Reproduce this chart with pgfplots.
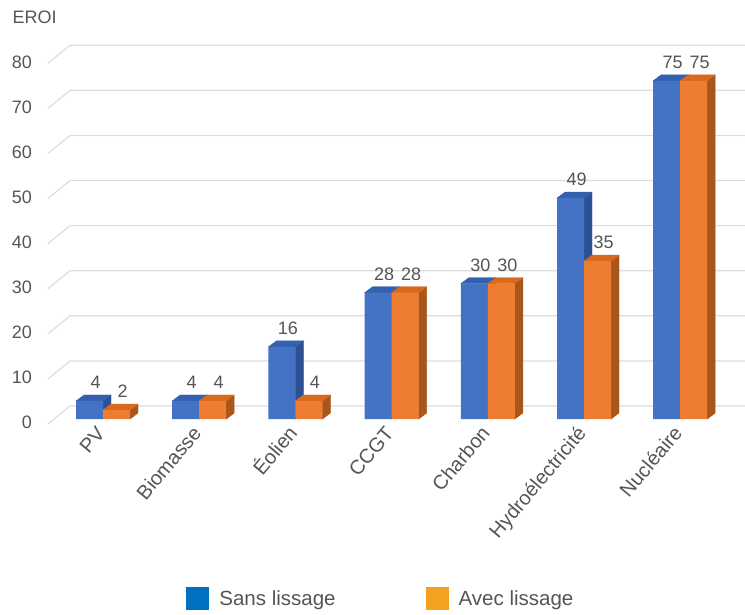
\documentclass[border=0pt]{standalone}
\usepackage{pgfplots}
\pgfplotsset{compat=1.18}
\usepackage{pgfplotstable}
\usepackage{fontspec}
\setmainfont{Liberation Sans}

\definecolor{bluefront}{HTML}{4472C4}
\definecolor{bluetop}{HTML}{3460B0}
\definecolor{blueside}{HTML}{2C5093}
\definecolor{orangefront}{HTML}{ED7D31}
\definecolor{orangetop}{HTML}{D8691F}
\definecolor{orangeside}{HTML}{A9561A}
\definecolor{legblue}{HTML}{0070C0}
\definecolor{legorange}{HTML}{F4A020}
\definecolor{gridgray}{HTML}{DDDDDD}
\definecolor{labelgray}{HTML}{555555}

% EROI with and without smoothing, per source
\pgfplotstableread{
idx sans avec
0 4 2
1 4 4
2 16 4
3 28 28
4 30 30
5 49 35
6 75 75
}\eroi

% depth of the extruded bars (pt) and vertical unit (pt per EROI point)
\def\dx{8}
\def\dy{6}
\def\yu{4.51}

\pgfplotsset{
  extrude/.style n args={4}{% side colour, top colour, left and right edge of the front face (pt)
    scatter, only marks, mark=text, text mark={}, forget plot,
    visualization depends on={rawy \as \vy},
    scatter/@pre marker code/.code={%
      \pgfmathsetmacro\hh{\vy*\yu}%
      \fill[#1] (#4pt,-\hh pt) -- (#4pt,0pt) -- (#4pt+\dx pt,\dy pt) -- (#4pt+\dx pt,\dy pt-\hh pt) -- cycle;
      \fill[#2] (#3pt,0pt) -- (#3pt+\dx pt,\dy pt) -- (#4pt+\dx pt,\dy pt) -- (#4pt,0pt) -- cycle;
    },
    scatter/@post marker code/.code={},
  },
  front/.style={ybar, bar width=27pt, draw=none, bar shift=#1,
    nodes near coords,
    every node near coord/.append style={anchor=base, inner sep=0pt, xshift=#1+6pt, yshift=12.5pt,
      font=\fontsize{18}{21}\selectfont, text=labelgray},
  },
}

\begin{document}
\begin{tikzpicture}
\begin{axis}[
  at={(48pt,191pt)}, anchor=south west,
  x=96.2pt, y=\yu pt,
  xmin=-0.572, xmax=6.67, ymin=-1.1, ymax=83,
  enlargelimits=false, clip=false, clip marker paths=true, set layers,
  axis line style={draw=none}, major tick length=0pt,
  xtick={0,...,6},
  xticklabels={PV,Biomasse,Éolien,CCGT,Charbon,Hydroélectricité,Nucléaire},
  ytick={0,10,...,80},
  /pgf/number format/assume math mode=true,
  tick label style={font=\fontsize{18}{21}\selectfont, text=labelgray},
  yticklabel style={anchor=east, inner sep=0pt, xshift=-16pt, yshift=-3.6pt},
  xticklabel style={xshift=1pt, yshift=-8pt, rotate=50, anchor=east, inner sep=0pt,
    text height=0.75em, text depth=0.2em, font=\fontsize{20}{23}\selectfont},
  ylabel={EROI},
  every axis y label/.style={at={(axis description cs:-0.056,1.0546)}, anchor=base west,
    font=\fontsize{18}{21}\selectfont, text=labelgray},
  legend style={draw=none, fill=none, at={(axis description cs:0.4778,-0.4614)}, anchor=center,
    legend columns=2, font=\fontsize{20.5}{24}\selectfont, text=labelgray,
    /tikz/every even column/.append style={column sep=88pt}},
]
\begin{pgfonlayer}{axis background}
  \pgfplotsinvokeforeach{0,10,...,80}{
    \draw[gridgray, line width=1.2pt] (axis cs:-0.572,#1-1.1) -- (axis cs:-0.343,#1+2.88) -- (axis cs:6.9,#1+2.88);
  }
\end{pgfonlayer}

\addplot[extrude={blueside}{bluetop}{-27}{0}] table[x=idx, y=sans]{\eroi};
\addplot[front=-13.5pt, fill=bluefront,
  legend image code/.code={\fill[legblue] (0pt,-11.5pt) rectangle (23pt,11.5pt); \path (31pt,0pt);}]
  table[x=idx, y=sans]{\eroi};
\addlegendentry{Sans lissage}

\addplot[extrude={orangeside}{orangetop}{0}{27}] table[x=idx, y=avec]{\eroi};
\addplot[front=13.5pt, fill=orangefront,
  legend image code/.code={\fill[legorange] (0pt,-11.5pt) rectangle (23pt,11.5pt); \path (31pt,0pt);}]
  table[x=idx, y=avec]{\eroi};
\addlegendentry{Avec lissage}
\end{axis}
% page frame: 745 x 615
\pgfresetboundingbox
\useasboundingbox (0,0) rectangle (745pt,615pt);
\end{tikzpicture}
\end{document}
